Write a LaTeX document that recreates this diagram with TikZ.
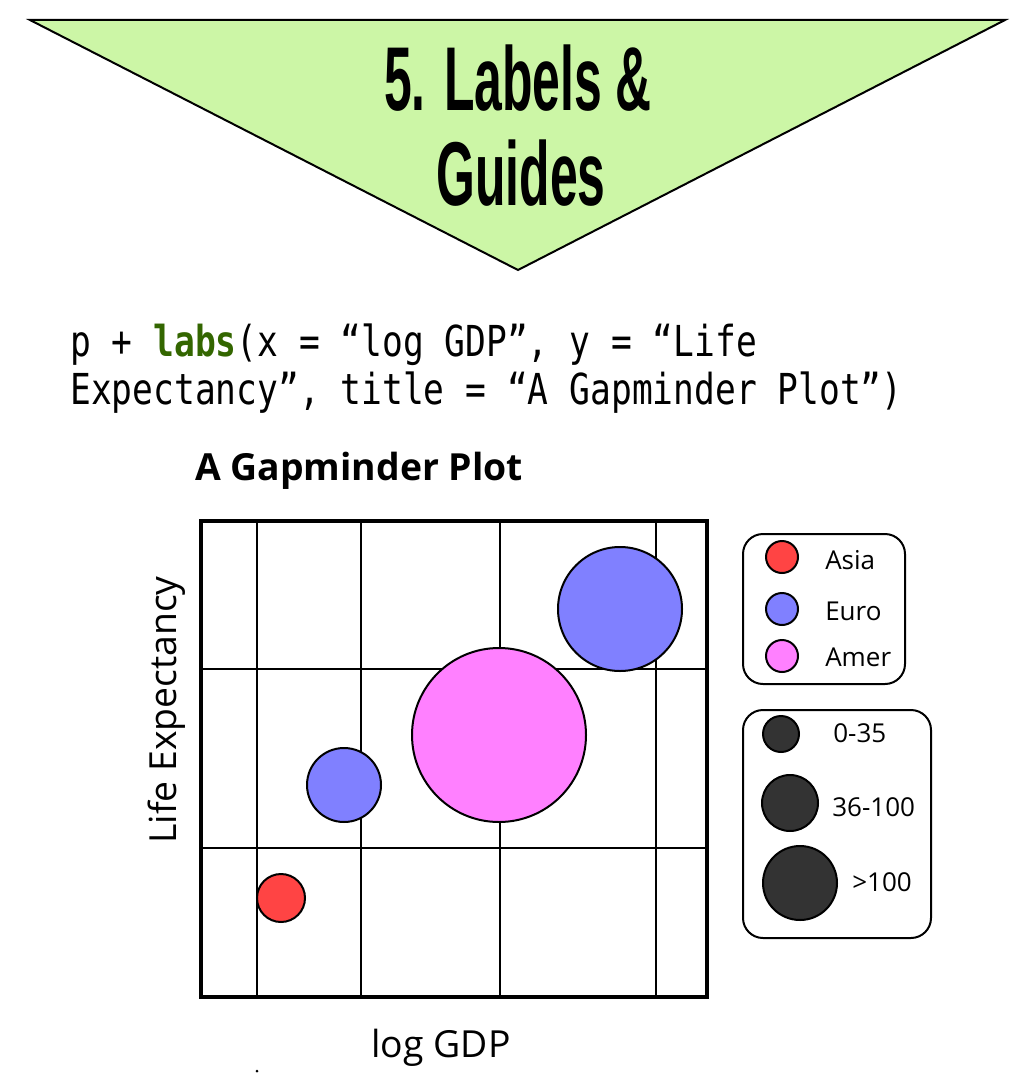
\documentclass[tikz,border=0pt]{standalone}
\usepackage{fontspec}
\setmainfont{Open Sans}
\newfontfamily\codefont[FakeStretch=0.81]{DejaVu Sans Mono}
\newfontfamily\headfont[FakeStretch=0.55]{Liberation Sans}
\usepackage{tikz}
\usetikzlibrary{positioning}
\definecolor{headgreen}{RGB}{204,246,166}
\definecolor{codegreen}{RGB}{51,102,0}
\definecolor{asia}{RGB}{255,68,68}
\definecolor{euro}{RGB}{128,128,255}
\definecolor{amer}{RGB}{255,128,255}
\definecolor{sizegray}{RGB}{51,51,51}

\begin{document}
\begin{tikzpicture}[x=0.75pt,y=-0.75pt,
    bubble/.style={circle,draw,line width=1.5pt,inner sep=0pt},
    key box/.style={draw,line width=1.5pt,rounded corners=15pt},
    key text/.style={anchor=base west,font=\fontsize{19.5}{23}\selectfont},
    grid line/.style={line width=2pt},
    axis text/.style={anchor=base,font=\fontsize{28}{32}\selectfont}]
  \useasboundingbox (0,0) rectangle (1013,1081);

  % header
  \draw[fill=headgreen,line width=1.5pt] (30,20) -- (1005,20) -- (518,270) -- cycle;
  \node[anchor=base,font=\headfont\bfseries\fontsize{68}{72}\selectfont] (head1) at (518,110) {5. Labels \&};
  \node[anchor=base,font=\headfont\bfseries\fontsize{68}{72}\selectfont] (head2) at (521,205) {Guides};

  % code
  \node[anchor=base west,inner sep=0pt,font=\codefont\fontsize{32}{36}\selectfont] (code1) at (70,356)
    {p + \textcolor{codegreen}{\bfseries labs}(x = “log GDP”, y = “Life};
  \node[anchor=base west,inner sep=0pt,font=\codefont\fontsize{32}{36}\selectfont] (code2) at (70,404)
    {Expectancy”, title = “A Gapminder Plot”)};

  % plot
  \node[anchor=base west,inner sep=0pt,font=\bfseries\fontsize{28}{32}\selectfont] (ptitle) at (195,480) {A Gapminder Plot};
  \foreach \gx in {257,361,500,656}
    \draw[grid line] (\gx,521) -- (\gx,997);
  \foreach \gy in {669,848}
    \draw[grid line] (201,\gy) -- (707,\gy);
  \draw[line width=3.4pt] (201,521) rectangle (707,997);

  \node[bubble,fill=asia,minimum size=36pt] (asia1) at (281,898) {};
  \node[bubble,fill=euro,minimum size=55.5pt] (euro1) at (344,785) {};
  \node[bubble,fill=amer,minimum size=130.5pt] (amer1) at (499,735) {};
  \node[bubble,fill=euro,minimum size=93pt] (euro2) at (620,609) {};

  \node[axis text] (xlab) at (441,1057) {log GDP};
  \node[axis text,rotate=90] (ylab) at (176,710) {Life Expectancy};
  \fill (257,1071) circle (1.5);

  % legends
  \draw[key box] (743,534) rectangle (905,684);
  \node[bubble,fill=asia,minimum size=24pt] (kasia) at (782,557) {};
  \node[bubble,fill=euro,minimum size=24pt] (keuro) at (782,609) {};
  \node[bubble,fill=amer,minimum size=24pt] (kamer) at (782,656) {};
  \node[key text,inner sep=0pt] (tasia) at (825,569) {Asia};
  \node[key text,inner sep=0pt] (teuro) at (825,620) {Euro};
  \node[key text,inner sep=0pt] (tamer) at (825,666) {Amer};

  \draw[key box] (743,710) rectangle (931,938);
  \node[bubble,fill=sizegray,minimum size=27pt] (ksmall) at (781,734) {};
  \node[bubble,fill=sizegray,minimum size=42pt] (kmid) at (790,803) {};
  \node[bubble,fill=sizegray,minimum size=55.5pt] (kbig) at (800,883) {};
  \node[key text,inner sep=0pt] (tsmall) at (833,742) {0-35};
  \node[key text,inner sep=0pt] (tmid) at (832,816) {36-100};
  \node[key text,inner sep=0pt] (tbig) at (852,891) {>100};
\end{tikzpicture}
\end{document}
